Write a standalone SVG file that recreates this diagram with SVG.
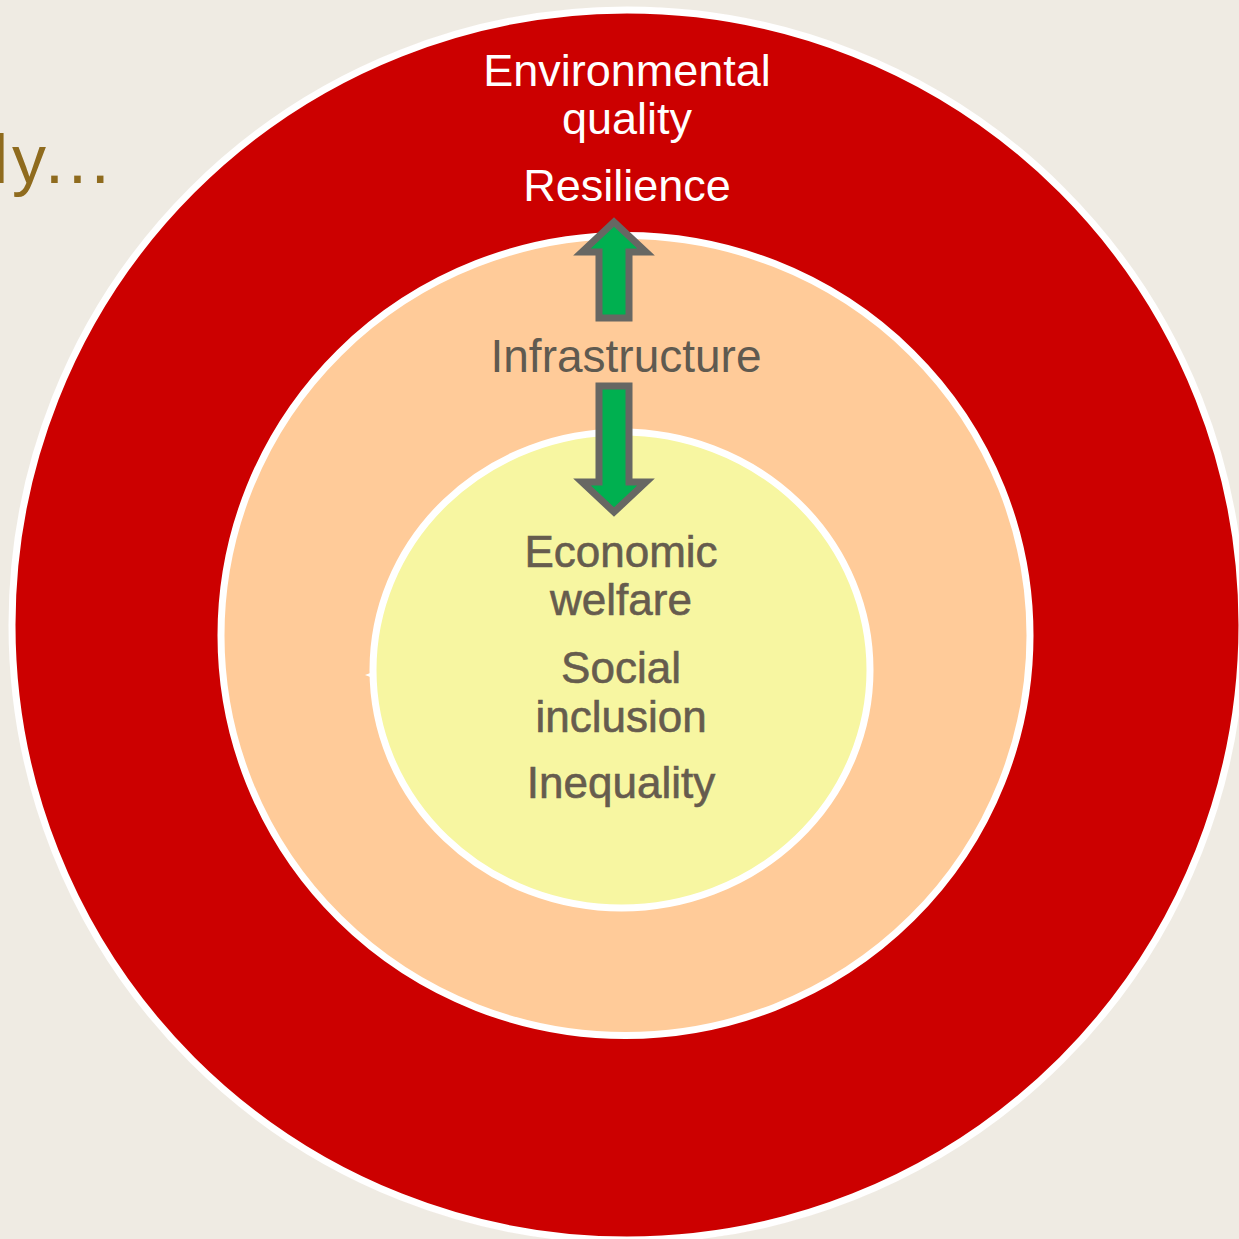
<svg xmlns="http://www.w3.org/2000/svg" width="1239" height="1239" viewBox="0 0 1239 1239">
  <style>
    .ring { stroke: #ffffff; stroke-width: 7; }
    .lbl { font-family: "Liberation Sans", Arial, sans-serif; font-size: 44px; text-anchor: middle; }
    .white { fill: #ffffff; font-size: 45px; }
    .mid { fill: #5f5a50; font-size: 46px; }
    .inner { fill: #665c4e; stroke: #665c4e; stroke-width: 0.6; }
    .arrow { fill: #00b050; stroke: #676763; stroke-width: 7; stroke-linejoin: miter; stroke-miterlimit: 10; }
  </style>
  <rect x="0" y="0" width="1239" height="1239" fill="#efebe3"/>
  <text x="-7" y="183" font-family="Liberation Sans, Arial, sans-serif" font-size="68" fill="#8f6b1e" letter-spacing="4">ly...</text>

  <g id="outer-ring">
    <circle cx="627" cy="625" r="618" fill="#f3c9c9"/>
    <circle cx="627" cy="625" r="615" fill="#cc0000" class="ring"/>
    <text class="lbl white" x="627" y="86">Environmental</text>
    <text class="lbl white" x="627" y="134">quality</text>
    <text class="lbl white" x="627" y="201">Resilience</text>
  </g>

  <g id="middle-ring">
    <ellipse cx="625.5" cy="635.5" rx="404.5" ry="400" fill="#ffcb99" class="ring"/>
    <text class="lbl mid" x="626" y="372">Infrastructure</text>
  </g>

  <g id="inner-ring">
    <ellipse cx="621.5" cy="670" rx="248.5" ry="238" fill="#f7f6a1" class="ring"/>
    <polygon points="365,675 373,672 373,678" fill="#ffffff"/>
    <text class="lbl inner" x="621" y="567">Economic</text>
    <text class="lbl inner" x="621" y="615">welfare</text>
    <text class="lbl inner" x="621" y="683">Social</text>
    <text class="lbl inner" x="621" y="732">inclusion</text>
    <text class="lbl inner" x="621" y="798">Inequality</text>
  </g>

  <g id="connectors">
    <path class="arrow" d="M599,318 L599,252 L582,252 L614,222 L646,252 L629,252 L629,318 Z"/>
    <path class="arrow" d="M599,386 L629,386 L629,482 L646,482 L614,512 L582,482 L599,482 Z"/>
  </g>
</svg>
